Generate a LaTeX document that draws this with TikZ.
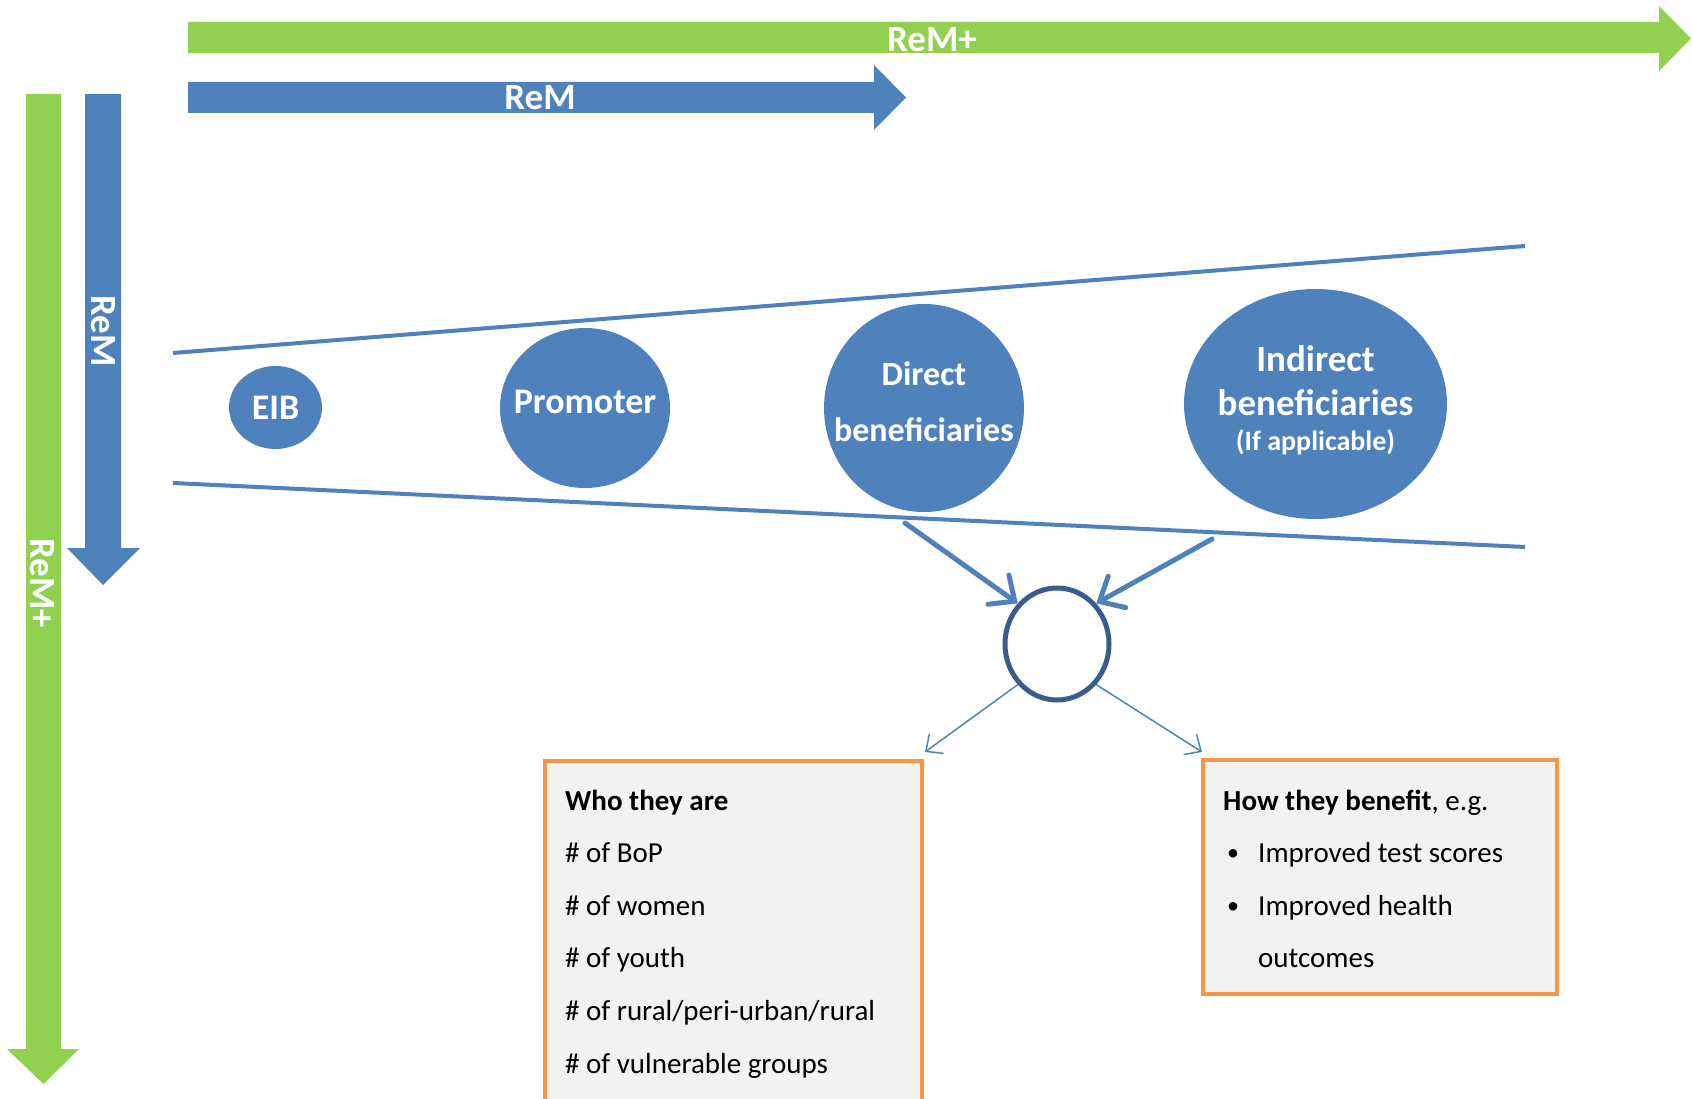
\documentclass[tikz,border=0pt]{standalone}
\usepackage{fontspec}
\setmainfont{Carlito}
\usetikzlibrary{shapes.geometric,arrows.meta}
\definecolor{rgreen}{HTML}{92D050}
\definecolor{rblue}{HTML}{4F81BD}
\definecolor{rdark}{HTML}{385D8A}
\definecolor{rorange}{HTML}{F79646}
\definecolor{rgray}{HTML}{F2F2F2}
\begin{document}
\begin{tikzpicture}[x=1pt,y=-1pt,
  bigtxt/.style={text=white,font=\fontsize{37}{40}\selectfont\bfseries,inner sep=0pt},
  blob/.style={ellipse,fill=rblue,draw=none,inner xsep=-30pt,inner ysep=-30pt,text=white,align=center},
  funnel/.style={draw=rblue,line width=4pt},
  fatarrow/.style={draw=rblue,line width=5pt,line cap=round,-{Straight Barb[length=20pt,width=36pt,line cap=round]}},
  slimarrow/.style={draw=rblue,line width=1.5pt,-{Straight Barb[length=13pt,width=24pt]}},
  infobox/.style={rectangle,draw=rorange,fill=rgray,line width=4pt,anchor=north west,inner sep=0pt},
  boxtxt/.style={anchor=base west,inner sep=0pt,font=\fontsize{29}{34}\selectfont},
  hub/.style={ellipse,draw=rdark,line width=5pt,fill=white,inner sep=0pt,minimum width=104pt,minimum height=112pt}
]
\useasboundingbox (0,0) rectangle (1692,1099);

% big horizontal arrows
\fill[rgreen] (188,22) -- (1659,22) -- (1659,6) -- (1691,38.5) -- (1659,71) -- (1659,53) -- (188,53) -- cycle;
\node[bigtxt,anchor=base] (remplusH) at (932,52) {ReM+};
\fill[rblue] (188,82) -- (874,82) -- (874,65) -- (906,97.5) -- (874,130) -- (874,113) -- (188,113) -- cycle;
\node[bigtxt,anchor=base] (remH) at (540,110) {ReM};

% big vertical arrows
\fill[rgreen] (26,94) -- (61,94) -- (61,1049) -- (79,1049) -- (43.5,1084) -- (7,1049) -- (26,1049) -- cycle;
\node[bigtxt,anchor=base,rotate=-90] (remplusV) at (30,583) {ReM+};
\fill[rblue] (85,94) -- (121,94) -- (121,548) -- (140,548) -- (103,585) -- (67,548) -- (85,548) -- cycle;
\node[bigtxt,anchor=base,rotate=-90] (remV) at (91,331) {ReM};

% funnel
\draw[funnel] (173,353) -- (1525,246);
\draw[funnel] (173,483) -- (1525,547);

% actors
\node[blob,minimum width=93pt,minimum height=83pt,font=\fontsize{36}{40}\selectfont\bfseries] (eib) at (275.5,407.5) {EIB};
\node[blob,minimum width=170pt,minimum height=160pt,font=\fontsize{36}{40}\selectfont\bfseries] (prom) at (585,408) {Promoter\rule[-12pt]{0pt}{12pt}};
\node[blob,minimum width=200pt,minimum height=208pt,font=\fontsize{34}{56}\selectfont\bfseries] (direct) at (924,408) {Direct\\beneficiaries\rule[-12pt]{0pt}{12pt}};
\node[blob,minimum width=263pt,minimum height=230pt,font=\fontsize{37}{44}\selectfont\bfseries] (indirect) at (1315.5,404) {Indirect\\beneficiaries\\[-9pt]{\fontsize{28}{35}\selectfont(If applicable)\rule[-11pt]{0pt}{11pt}}};

% hub
\node[hub] (circ) at (1057,644) {};
\coordinate (s1) at (905,523);
\coordinate (s2) at (1212,539);
\draw[fatarrow] (s1) -- (circ.134);
\draw[fatarrow] (s2) -- (circ.46);
\coordinate (t1) at (925,752);
\coordinate (t2) at (1202,752);
\draw[slimarrow] (circ.226) -- (t1);
\draw[slimarrow] (circ.314) -- (t2);

% boxes
\node[infobox,minimum width=377pt,minimum height=352pt] (who) at (543,759) {};
\node[boxtxt,font=\fontsize{29}{34}\selectfont\bfseries] (w0) at (565,810) {Who they are};
\node[boxtxt] (w1) at (565,862) {\# of BoP};
\node[boxtxt] (w2) at (565,915) {\# of women};
\node[boxtxt] (w3) at (565,967) {\# of youth};
\node[boxtxt] (w4) at (565,1020) {\# of rural/peri-urban/rural};
\node[boxtxt] (w5) at (565,1073) {\# of vulnerable groups};

\node[infobox,minimum width=354pt,minimum height=234pt] (how) at (1201,758) {};
\node[boxtxt] (h0) at (1223,810) {\textbf{How they benefit}, e.g.};
\node[boxtxt,font=\fontsize{24}{34}\selectfont] (b1) at (1227,860) {•};
\node[boxtxt] (h1) at (1258,862) {Improved test scores};
\node[boxtxt,font=\fontsize{24}{34}\selectfont] (b2) at (1227,913) {•};
\node[boxtxt] (h2) at (1258,915) {Improved health};
\node[boxtxt] (h3) at (1258,967) {outcomes};
\end{tikzpicture}
\end{document}
